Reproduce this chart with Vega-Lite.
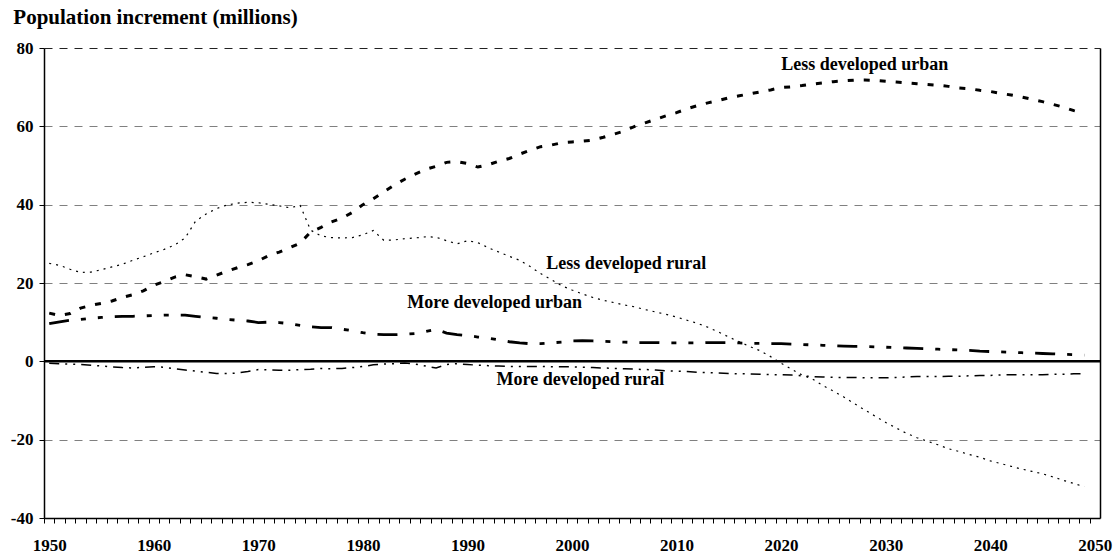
{
  "$schema": "https://vega.github.io/schema/vega-lite/v6.json",
  "width": 1056,
  "height": 470,
  "autosize": "none",
  "padding": {"left": 44, "top": 48, "right": 17, "bottom": 37},
  "background": "white",
  "title": {"text": "Population increment (millions)", "anchor": "start", "frame": "bounds", "font": "Liberation Serif", "fontSize": 21, "fontWeight": "bold", "color": "black", "offset": 11, "dx": 3},
  "config": {
    "view": {"stroke": null},
    "axis": {"labelFont": "Liberation Serif", "labelFontWeight": "bold", "labelFontSize": 17, "labelColor": "black", "tickColor": "black", "domainColor": "black"}
  },
  "data": {"values": [
    {"year":1950,"ldu":12.3,"ldr":25.0,"mdu":9.6,"mdr":-0.5},
    {"year":1951,"ldu":11.7,"ldr":24.5,"mdu":10.1,"mdr":-0.6},
    {"year":1952,"ldu":12.2,"ldr":23.5,"mdu":10.5,"mdr":-0.7},
    {"year":1953,"ldu":13.6,"ldr":22.7,"mdu":10.7,"mdr":-0.8},
    {"year":1954,"ldu":14.3,"ldr":22.8,"mdu":11.0,"mdr":-1.0},
    {"year":1955,"ldu":14.8,"ldr":23.4,"mdu":11.2,"mdr":-1.2},
    {"year":1956,"ldu":15.4,"ldr":24.1,"mdu":11.4,"mdr":-1.4},
    {"year":1957,"ldu":16.3,"ldr":24.8,"mdu":11.5,"mdr":-1.6},
    {"year":1958,"ldu":17.0,"ldr":25.8,"mdu":11.5,"mdr":-1.7},
    {"year":1959,"ldu":18.0,"ldr":26.7,"mdu":11.6,"mdr":-1.5},
    {"year":1960,"ldu":19.4,"ldr":27.7,"mdu":11.7,"mdr":-1.4},
    {"year":1961,"ldu":20.4,"ldr":28.6,"mdu":11.8,"mdr":-1.5},
    {"year":1962,"ldu":21.5,"ldr":29.7,"mdu":11.8,"mdr":-1.9},
    {"year":1963,"ldu":22.1,"ldr":31.5,"mdu":11.8,"mdr":-2.2},
    {"year":1964,"ldu":21.6,"ldr":35.8,"mdu":11.5,"mdr":-2.5},
    {"year":1965,"ldu":21.0,"ldr":37.6,"mdu":11.2,"mdr":-2.8},
    {"year":1966,"ldu":22.0,"ldr":39.0,"mdu":11.0,"mdr":-3.1},
    {"year":1967,"ldu":23.0,"ldr":39.9,"mdu":10.7,"mdr":-3.1},
    {"year":1968,"ldu":23.9,"ldr":40.4,"mdu":10.5,"mdr":-3.0},
    {"year":1969,"ldu":24.7,"ldr":40.6,"mdu":10.3,"mdr":-2.6},
    {"year":1970,"ldu":25.7,"ldr":40.5,"mdu":9.9,"mdr":-2.1},
    {"year":1971,"ldu":27.0,"ldr":40.1,"mdu":10.0,"mdr":-2.2},
    {"year":1972,"ldu":27.9,"ldr":39.7,"mdu":9.9,"mdr":-2.3},
    {"year":1973,"ldu":29.0,"ldr":39.2,"mdu":9.6,"mdr":-2.3},
    {"year":1974,"ldu":30.2,"ldr":39.8,"mdu":9.2,"mdr":-2.1},
    {"year":1975,"ldu":33.0,"ldr":33.5,"mdu":8.8,"mdr":-2.0},
    {"year":1976,"ldu":34.2,"ldr":32.0,"mdu":8.6,"mdr":-1.8},
    {"year":1977,"ldu":35.6,"ldr":31.6,"mdu":8.6,"mdr":-1.9},
    {"year":1978,"ldu":36.6,"ldr":31.5,"mdu":8.2,"mdr":-1.8},
    {"year":1979,"ldu":38.0,"ldr":31.6,"mdu":7.8,"mdr":-1.6},
    {"year":1980,"ldu":40.0,"ldr":32.3,"mdu":7.3,"mdr":-1.3},
    {"year":1981,"ldu":41.5,"ldr":33.4,"mdu":6.9,"mdr":-0.9},
    {"year":1982,"ldu":43.3,"ldr":30.9,"mdu":6.8,"mdr":-0.7},
    {"year":1983,"ldu":45.0,"ldr":31.0,"mdu":6.8,"mdr":-0.6},
    {"year":1984,"ldu":46.5,"ldr":31.3,"mdu":6.9,"mdr":-0.4},
    {"year":1985,"ldu":47.8,"ldr":31.5,"mdu":7.1,"mdr":-0.7},
    {"year":1986,"ldu":49.0,"ldr":31.8,"mdu":7.6,"mdr":-1.2},
    {"year":1987,"ldu":49.8,"ldr":31.7,"mdu":8.2,"mdr":-1.7},
    {"year":1988,"ldu":50.8,"ldr":30.8,"mdu":7.2,"mdr":-0.8},
    {"year":1989,"ldu":51.0,"ldr":30.0,"mdu":6.8,"mdr":-0.6},
    {"year":1990,"ldu":50.5,"ldr":30.8,"mdu":6.6,"mdr":-0.8},
    {"year":1991,"ldu":49.6,"ldr":30.3,"mdu":6.2,"mdr":-1.0},
    {"year":1992,"ldu":50.2,"ldr":29.0,"mdu":5.9,"mdr":-1.1},
    {"year":1993,"ldu":51.1,"ldr":27.9,"mdu":5.5,"mdr":-1.2},
    {"year":1994,"ldu":51.8,"ldr":26.8,"mdu":5.0,"mdr":-1.3},
    {"year":1995,"ldu":52.9,"ldr":25.8,"mdu":4.7,"mdr":-1.3},
    {"year":1996,"ldu":53.9,"ldr":24.2,"mdu":4.5,"mdr":-1.3},
    {"year":1997,"ldu":54.8,"ldr":22.4,"mdu":4.5,"mdr":-1.3},
    {"year":1998,"ldu":55.2,"ldr":20.9,"mdu":4.7,"mdr":-1.4},
    {"year":1999,"ldu":55.8,"ldr":19.3,"mdu":4.9,"mdr":-1.4},
    {"year":2000,"ldu":56.0,"ldr":18.2,"mdu":5.2,"mdr":-1.4},
    {"year":2001,"ldu":56.2,"ldr":17.2,"mdu":5.3,"mdr":-1.5},
    {"year":2002,"ldu":56.5,"ldr":16.3,"mdu":5.2,"mdr":-1.6},
    {"year":2003,"ldu":57.2,"ldr":15.6,"mdu":5.1,"mdr":-1.7},
    {"year":2004,"ldu":58.0,"ldr":15.0,"mdu":5.0,"mdr":-1.8},
    {"year":2005,"ldu":58.8,"ldr":14.4,"mdu":4.9,"mdr":-1.9},
    {"year":2006,"ldu":60.0,"ldr":13.9,"mdu":4.8,"mdr":-2.0},
    {"year":2007,"ldu":60.9,"ldr":13.2,"mdu":4.8,"mdr":-2.1},
    {"year":2008,"ldu":61.8,"ldr":12.6,"mdu":4.8,"mdr":-2.2},
    {"year":2009,"ldu":62.7,"ldr":12.0,"mdu":4.7,"mdr":-2.4},
    {"year":2010,"ldu":63.5,"ldr":11.3,"mdu":4.7,"mdr":-2.5},
    {"year":2011,"ldu":64.5,"ldr":10.5,"mdu":4.7,"mdr":-2.6},
    {"year":2012,"ldu":65.3,"ldr":9.7,"mdu":4.7,"mdr":-2.8},
    {"year":2013,"ldu":66.0,"ldr":8.7,"mdu":4.8,"mdr":-2.9},
    {"year":2014,"ldu":66.6,"ldr":7.5,"mdu":4.8,"mdr":-3.0},
    {"year":2015,"ldu":67.3,"ldr":6.2,"mdu":4.8,"mdr":-3.1},
    {"year":2016,"ldu":67.8,"ldr":5.0,"mdu":4.7,"mdr":-3.2},
    {"year":2017,"ldu":68.3,"ldr":3.8,"mdu":4.6,"mdr":-3.2},
    {"year":2018,"ldu":68.8,"ldr":2.7,"mdu":4.6,"mdr":-3.3},
    {"year":2019,"ldu":69.3,"ldr":1.2,"mdu":4.5,"mdr":-3.4},
    {"year":2020,"ldu":69.9,"ldr":-0.5,"mdu":4.5,"mdr":-3.4},
    {"year":2021,"ldu":70.1,"ldr":-2.0,"mdu":4.4,"mdr":-3.5},
    {"year":2022,"ldu":70.4,"ldr":-3.5,"mdu":4.3,"mdr":-3.7},
    {"year":2023,"ldu":70.8,"ldr":-4.5,"mdu":4.2,"mdr":-3.9},
    {"year":2024,"ldu":71.1,"ldr":-6.2,"mdu":4.1,"mdr":-4.0},
    {"year":2025,"ldu":71.4,"ldr":-7.6,"mdu":4.0,"mdr":-4.1},
    {"year":2026,"ldu":71.6,"ldr":-9.1,"mdu":3.9,"mdr":-4.1},
    {"year":2027,"ldu":71.8,"ldr":-10.8,"mdu":3.8,"mdr":-4.1},
    {"year":2028,"ldu":71.8,"ldr":-12.4,"mdu":3.8,"mdr":-4.2},
    {"year":2029,"ldu":71.7,"ldr":-14.0,"mdu":3.7,"mdr":-4.2},
    {"year":2030,"ldu":71.5,"ldr":-15.6,"mdu":3.6,"mdr":-4.2},
    {"year":2031,"ldu":71.3,"ldr":-17.0,"mdu":3.5,"mdr":-4.1},
    {"year":2032,"ldu":71.1,"ldr":-18.4,"mdu":3.4,"mdr":-4.0},
    {"year":2033,"ldu":70.9,"ldr":-19.5,"mdu":3.3,"mdr":-3.9},
    {"year":2034,"ldu":70.7,"ldr":-20.4,"mdu":3.2,"mdr":-3.9},
    {"year":2035,"ldu":70.5,"ldr":-21.3,"mdu":3.1,"mdr":-3.9},
    {"year":2036,"ldu":70.2,"ldr":-22.3,"mdu":3.0,"mdr":-3.8},
    {"year":2037,"ldu":69.8,"ldr":-23.0,"mdu":2.9,"mdr":-3.8},
    {"year":2038,"ldu":69.6,"ldr":-23.8,"mdu":2.8,"mdr":-3.7},
    {"year":2039,"ldu":69.2,"ldr":-24.5,"mdu":2.6,"mdr":-3.6},
    {"year":2040,"ldu":68.9,"ldr":-25.4,"mdu":2.5,"mdr":-3.6},
    {"year":2041,"ldu":68.4,"ldr":-26.1,"mdu":2.4,"mdr":-3.5},
    {"year":2042,"ldu":68.0,"ldr":-26.8,"mdu":2.3,"mdr":-3.4},
    {"year":2043,"ldu":67.5,"ldr":-27.5,"mdu":2.2,"mdr":-3.4},
    {"year":2044,"ldu":66.9,"ldr":-28.1,"mdu":2.1,"mdr":-3.4},
    {"year":2045,"ldu":66.3,"ldr":-28.7,"mdu":2.0,"mdr":-3.4},
    {"year":2046,"ldu":65.6,"ldr":-29.5,"mdu":1.9,"mdr":-3.3},
    {"year":2047,"ldu":64.9,"ldr":-30.4,"mdu":1.8,"mdr":-3.3},
    {"year":2048,"ldu":64.0,"ldr":-31.2,"mdu":1.7,"mdr":-3.2},
    {"year":2049,"ldu":63.3,"ldr":-32.0,"mdu":1.6,"mdr":-3.2}
  ]},
  "resolve": {"axis": {"x": "independent", "y": "independent"}},
  "layer": [
    {
      "mark": {"type": "line", "color": "black", "strokeWidth": 1.5, "strokeDash": [10, 6, 2, 6, 2, 6], "strokeCap": "butt"},
      "encoding": {
        "x": {"field": "year", "type": "quantitative", "scale": {"domain": [1949.5, 2050.5], "nice": false, "zero": false},
          "axis": {"title": null, "tickCount": 101, "format": "d", "labelExpr": "datum.value % 10 === 0 ? '' + datum.value : ''", "labelOverlap": false, "labelFlush": false, "tickOffset": -5.23, "labelOffset": 5.23, "tickSize": 5, "labelPadding": 14, "grid": false, "domainWidth": 1.5}},
        "y": {"field": "mdr", "type": "quantitative", "scale": {"domain": [-40, 80], "nice": false, "zero": false},
          "axis": {"title": null, "values": [-40, -20, 0, 20, 40, 60, 80], "labelExpr": "'' + datum.value", "tickSize": 5, "labelPadding": 6, "domainWidth": 1.5, "grid": true, "gridDash": [8, 7], "gridColor": {"condition": {"test": "datum.value === 80", "value": "#222222"}, "value": "#808080"}, "gridWidth": 1}}
      }
    },
    {
      "mark": {"type": "line", "color": "black", "strokeWidth": 1.2, "strokeDash": [2, 5], "strokeCap": "butt"},
      "encoding": {
        "x": {"field": "year", "type": "quantitative", "scale": {"domain": [1949.5, 2050.5], "nice": false, "zero": false}, "axis": null},
        "y": {"field": "ldr", "type": "quantitative", "scale": {"domain": [-40, 80], "nice": false, "zero": false}, "axis": null}
      }
    },
    {
      "mark": {"type": "line", "color": "black", "strokeWidth": 2.8, "strokeDash": [20, 12, 5, 12, 5, 12], "strokeCap": "butt"},
      "encoding": {
        "x": {"field": "year", "type": "quantitative", "scale": {"domain": [1949.5, 2050.5], "nice": false, "zero": false}, "axis": null},
        "y": {"field": "mdu", "type": "quantitative", "scale": {"domain": [-40, 80], "nice": false, "zero": false}, "axis": null}
      }
    },
    {
      "mark": {"type": "line", "color": "black", "strokeWidth": 3, "strokeDash": [6, 10], "strokeCap": "butt"},
      "encoding": {
        "x": {"field": "year", "type": "quantitative", "scale": {"domain": [1949.5, 2050.5], "nice": false, "zero": false}, "axis": null},
        "y": {"field": "ldu", "type": "quantitative", "scale": {"domain": [-40, 80], "nice": false, "zero": false}, "axis": null}
      }
    },
    {
      "data": {"values": [{"v": 0}]},
      "mark": {"type": "rule", "color": "black", "strokeWidth": 2.5},
      "encoding": {
        "y": {"field": "v", "type": "quantitative", "scale": {"domain": [-40, 80], "nice": false, "zero": false},
          "axis": {"orient": "right", "title": null, "labels": false, "ticks": false, "grid": false, "domain": true, "domainColor": "black", "domainWidth": 1.5}}
      }
    },
    {
      "data": {"values": [
        {"year": 2028, "v": 74.3, "label": "Less developed urban"},
        {"year": 2005.2, "v": 23.5, "label": "Less developed rural"},
        {"year": 1992.6, "v": 13.55, "label": "More developed urban"},
        {"year": 2000.8, "v": -6.06, "label": "More developed rural"}
      ]},
      "mark": {"type": "text", "font": "Liberation Serif", "fontWeight": "bold", "fontSize": 18, "align": "center", "baseline": "alphabetic", "color": "black"},
      "encoding": {
        "x": {"field": "year", "type": "quantitative", "scale": {"domain": [1949.5, 2050.5], "nice": false, "zero": false}, "axis": null},
        "y": {"field": "v", "type": "quantitative", "scale": {"domain": [-40, 80], "nice": false, "zero": false}, "axis": null},
        "text": {"field": "label"}
      }
    }
  ]
}
